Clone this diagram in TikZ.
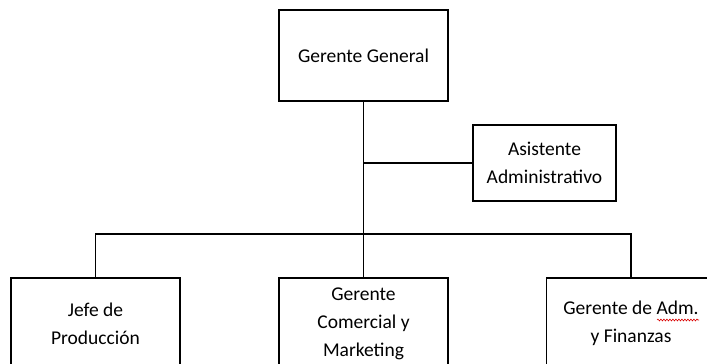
\documentclass[tikz,border=0pt]{standalone}
\usepackage{fontspec}
\setmainfont{Carlito}
\usetikzlibrary{decorations.pathmorphing}
\begin{document}
\begin{tikzpicture}[x=1pt,y=-1pt,
  box/.style={draw, line width=1.8pt, minimum width=169pt, minimum height=91pt,
    align=center, inner sep=0pt, font=\fontsize{19.5}{28}\selectfont},
  link/.style={line width=1.8pt},
  spell/.style={red!85!black, line width=0.6pt,
    decorate, decoration={snake, amplitude=0.9pt, segment length=3pt}}]
\useasboundingbox (0,0) rectangle (707,364);
\clip (0,0) rectangle (707,364);
% top level
\node[box] (gg) at (363.5,55.5) {Gerente General};
% staff position
\node[box, minimum width=143pt, minimum height=76pt] (as) at (544.5,163) {Asistente\\Administrativo};
% departments
\node[box] (jp) at (95.5,323.5) {Jefe de\\Producción};
\node[box] (gc) at (363.5,323.5) {Gerente\\Comercial y\\Marketing};
\node[box] (ga) at (631,323.5) {Gerente de Adm.\\y Finanzas};
% connectors
\coordinate (j) at (363.5,234);
\draw[link] (gg.south) -- (j) -- (gc.north);
\draw[link] (as.west) -- (as.west -| j);
\draw[link] (jp.north) -- (jp.north |- j) -- (ga.north |- j) -- (ga.north);
% spell-check underline
\draw[spell] (657,320) -- (699,320);
\end{tikzpicture}
\end{document}
